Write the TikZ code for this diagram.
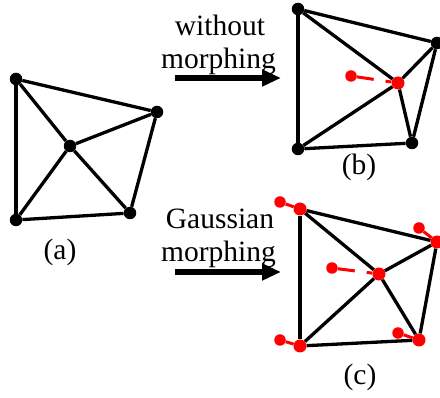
\documentclass[tikz,border=0pt]{standalone}
\usepackage{fontspec}
\usepackage{xcolor}
\setmainfont{Liberation Serif}
\usetikzlibrary{arrows.meta}
\tikzset{
    vtx/.style={circle, fill=black, inner sep=0pt, minimum size=12.5pt},
    redvtx/.style={circle, fill=red, inner sep=0pt, minimum size=13pt},
    ghost/.style={circle, fill=red, inner sep=0pt, minimum size=11.5pt},
    edge/.style={line width=3.3pt, black},
    moved/.style={line width=3pt, red},
    gapped/.style={moved, dash pattern=on 17pt off 12pt on 40pt},
    bigarrow/.style={line width=5.5pt, -{Triangle[length=19pt, width=16pt]}},
    lbl/.style={font=\fontsize{29.5}{30}\selectfont, inner sep=0pt}
}
\begin{document}
\begin{tikzpicture}[x=1pt, y=-1pt]
    \useasboundingbox (0,0) rectangle (440,398);
    % (a)
    \node[vtx] (a1) at (16,79) {};
    \node[vtx] (a2) at (157,112) {};
    \node[vtx] (a3) at (130,213) {};
    \node[vtx] (a4) at (16,220) {};
    \node[vtx] (a0) at (70,146) {};
    \draw[edge] (a1) -- (a2);
    \draw[edge] (a2) -- (a3);
    \draw[edge] (a3) -- (a4);
    \draw[edge] (a4) -- (a1);
    \draw[edge] (a0) -- (a1);
    \draw[edge] (a0) -- (a2);
    \draw[edge] (a0) -- (a3);
    \draw[edge] (a0) -- (a4);
    \node[lbl, anchor=base] (la) at (60,260) {(a)};
    % (b)
    \node[vtx] (b1) at (298,9) {};
    \node[vtx] (b2) at (437,43) {};
    \node[vtx] (b3) at (412,143) {};
    \node[vtx] (b4) at (298,149) {};
    \node[redvtx] (b0) at (398,83) {};
    \node[ghost] (g0) at (351,76) {};
    \draw[edge] (b1) -- (b2);
    \draw[edge] (b2) -- (b3);
    \draw[edge] (b3) -- (b4);
    \draw[edge] (b4) -- (b1);
    \draw[edge] (b0) -- (b1);
    \draw[edge] (b0) -- (b2);
    \draw[edge] (b0) -- (b3);
    \draw[edge] (b0) -- (b4);
    \draw[gapped] (g0) -- (b0);
    \node[lbl, anchor=base] (lb) at (359,175) {(b)};
    % (c)
    \node[redvtx] (c1) at (300,209) {};
    \node[redvtx] (c2) at (437,242) {};
    \node[redvtx] (c3) at (419,340) {};
    \node[redvtx] (c4) at (300,346) {};
    \node[redvtx] (c0) at (379,274) {};
    \node[ghost] (h0) at (332,268) {};
    \node[ghost] (h1) at (280,202) {};
    \node[ghost] (h2) at (419,228) {};
    \node[ghost] (h3) at (398,333) {};
    \node[ghost] (h4) at (280,340) {};
    \draw[edge] (c1) -- (c2);
    \draw[edge] (c2) -- (c3);
    \draw[edge] (c3) -- (c4);
    \draw[edge] (c4) -- (c1);
    \draw[edge] (c0) -- (c1);
    \draw[edge] (c0) -- (c2);
    \draw[edge] (c0) -- (c3);
    \draw[edge] (c0) -- (c4);
    \draw[gapped] (h0) -- (c0);
    \draw[moved] (h1) -- (c1);
    \draw[moved] (h2) -- (c2);
    \draw[moved] (h3) -- (c3);
    \draw[moved] (h4) -- (c4);
    \node[lbl, anchor=base] (lc) at (360,385) {(c)};
    % arrows
    \coordinate (p1) at (175,78);
    \coordinate (q1) at (281,78);
    \coordinate (p2) at (175,272);
    \coordinate (q2) at (281,272);
    \draw[bigarrow] (p1) -- (q1);
    \draw[bigarrow] (p2) -- (q2);
    \node[lbl, anchor=base] (t1) at (220,36) {without};
    \node[lbl, anchor=base] (t2) at (218.5,69) {morphing};
    \node[lbl, anchor=base] (t3) at (220,229) {Gaussian};
    \node[lbl, anchor=base] (t4) at (218.5,262) {morphing};
\end{tikzpicture}
\end{document}
